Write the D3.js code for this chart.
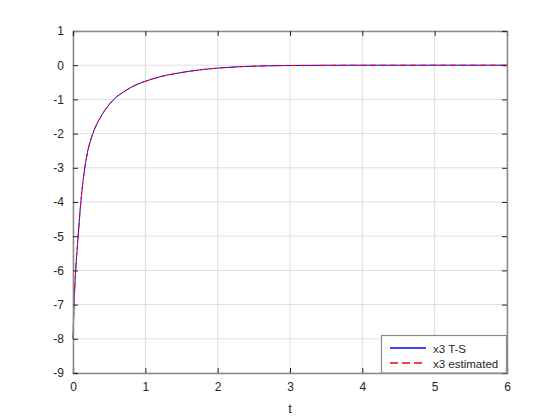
<!DOCTYPE html>
<html>
<head>
<meta charset="utf-8">
<script src="https://cdn.jsdelivr.net/npm/d3@7"></script>
<style>
  body { margin: 0; background: #fff; }
  svg { font-family: "Liberation Sans", Arial, sans-serif; }
</style>
</head>
<body>
<svg id="chart"></svg>
<script>
const width = 560, height = 420;
const svg = d3.select("#chart").attr("width", width).attr("height", height);

// data
const tValues = [0, 0.02, 0.04, 0.06, 0.08, 0.1, 0.125, 0.15, 0.2, 0.25, 0.3, 0.4, 0.5, 0.6, 0.7, 0.8, 0.9, 1.0, 1.2, 1.4, 1.6, 1.8, 2.0, 2.25, 2.5, 3, 3.5, 4, 5, 6];
const x3TS = [-8, -6.7, -5.9, -5.3, -4.75, -4.2, -3.65, -3.2, -2.55, -2.15, -1.86, -1.45, -1.15, -0.93, -0.78, -0.65, -0.55, -0.47, -0.34, -0.25, -0.18, -0.125, -0.085, -0.05, -0.028, -0.009, -0.003, -0.001, 0, 0];
const x3Est = [-8, -6.72, -5.9, -5.31, -4.75, -4.21, -3.65, -3.2, -2.56, -2.15, -1.86, -1.45, -1.15, -0.93, -0.78, -0.65, -0.55, -0.47, -0.34, -0.25, -0.18, -0.125, -0.085, -0.05, -0.028, -0.009, -0.003, -0.001, 0, 0];
const xTicks = [0, 1, 2, 3, 4, 5, 6];
const yTicks = [-9, -8, -7, -6, -5, -4, -3, -2, -1, 0, 1];
const seriesNames = ["x3 T-S", "x3 estimated"];

const plotL = 73, plotR = 507, plotT = 31, plotB = 373;
const x = d3.scaleLinear().domain([0, 6]).range([plotL, plotR]);
const y = d3.scaleLinear().domain([-9, 1]).range([plotB, plotT]);

const grid = svg.append("g");
grid.selectAll(".gx").data(xTicks).enter().append("line")
    .attr("x1", d => x(d)).attr("x2", d => x(d))
    .attr("y1", plotT).attr("y2", plotB)
    .attr("stroke", "#dfdfdf").attr("stroke-width", 1);
grid.selectAll(".gy").data(yTicks).enter().append("line")
    .attr("x1", plotL).attr("x2", plotR)
    .attr("y1", d => y(d)).attr("y2", d => y(d))
    .attr("stroke", "#dfdfdf").attr("stroke-width", 1);

const line = d3.line().curve(d3.curveMonotoneX);
const ptsTS = tValues.map((t, i) => [x(t), y(x3TS[i])]);
const ptsEst = tValues.map((t, i) => [x(t), y(x3Est[i])]);

svg.append("path").attr("d", line(ptsTS))
    .attr("fill", "none").attr("stroke", "#0000ff").attr("stroke-width", 1);
svg.append("path").attr("d", line(ptsEst))
    .attr("fill", "none").attr("stroke", "#ff0000").attr("stroke-width", 1)
    .attr("stroke-dasharray", "6,4");

// axes (box with ticks all round, MATLAB style)
const axisColor = "#262626";
svg.append("g").attr("transform", `translate(0,${plotB})`)
    .call(d3.axisBottom(x).tickValues(xTicks).tickSize(-5).tickPadding(9).tickFormat(d3.format("d")));
svg.append("g").attr("transform", `translate(${plotL},0)`)
    .call(d3.axisLeft(y).tickValues(yTicks).tickSize(-5).tickPadding(9).tickFormat(d => d < 0 ? "-" + Math.abs(d) : d));
svg.append("g").attr("transform", `translate(0,${plotT})`)
    .call(d3.axisTop(x).tickValues(xTicks).tickSize(-5).tickFormat(""));
svg.append("g").attr("transform", `translate(${plotR},0)`)
    .call(d3.axisRight(y).tickValues(yTicks).tickSize(-5).tickFormat(""));

svg.selectAll(".domain").attr("stroke", "#8a8a8a").attr("stroke-width", 1.5);
svg.selectAll(".tick line").attr("stroke", axisColor);
svg.selectAll(".tick text").attr("fill", "#262626").attr("font-size", 12)
    .attr("font-family", "'Liberation Sans', Arial, sans-serif");

svg.append("text").attr("x", (plotL + plotR) / 2).attr("y", 413)
    .attr("text-anchor", "middle").attr("font-size", 13).attr("fill", "#262626").text("t");

// legend
const lg = svg.append("g");
lg.append("rect").attr("x", 381.5).attr("y", 335.5).attr("width", 125).attr("height", 37.5)
    .attr("fill", "#fff").attr("stroke", "#8a8a8a").attr("stroke-width", 1.2);
const colors = ["#0000ff", "#ff0000"];
seriesNames.forEach((name, i) => {
    const ly = 348 + i * 15;
    lg.append("path").attr("d", `M390,${ly}H426`)
        .attr("fill", "none")
        .style("stroke", colors[i]).style("stroke-width", 1.4)
        .style("stroke-dasharray", i === 1 ? "8,4" : "none");
    lg.append("text").attr("x", 433).attr("y", ly + 4.5).attr("font-size", 11.5)
        .attr("fill", "#262626").text(name);
});
</script>
</body>
</html>
